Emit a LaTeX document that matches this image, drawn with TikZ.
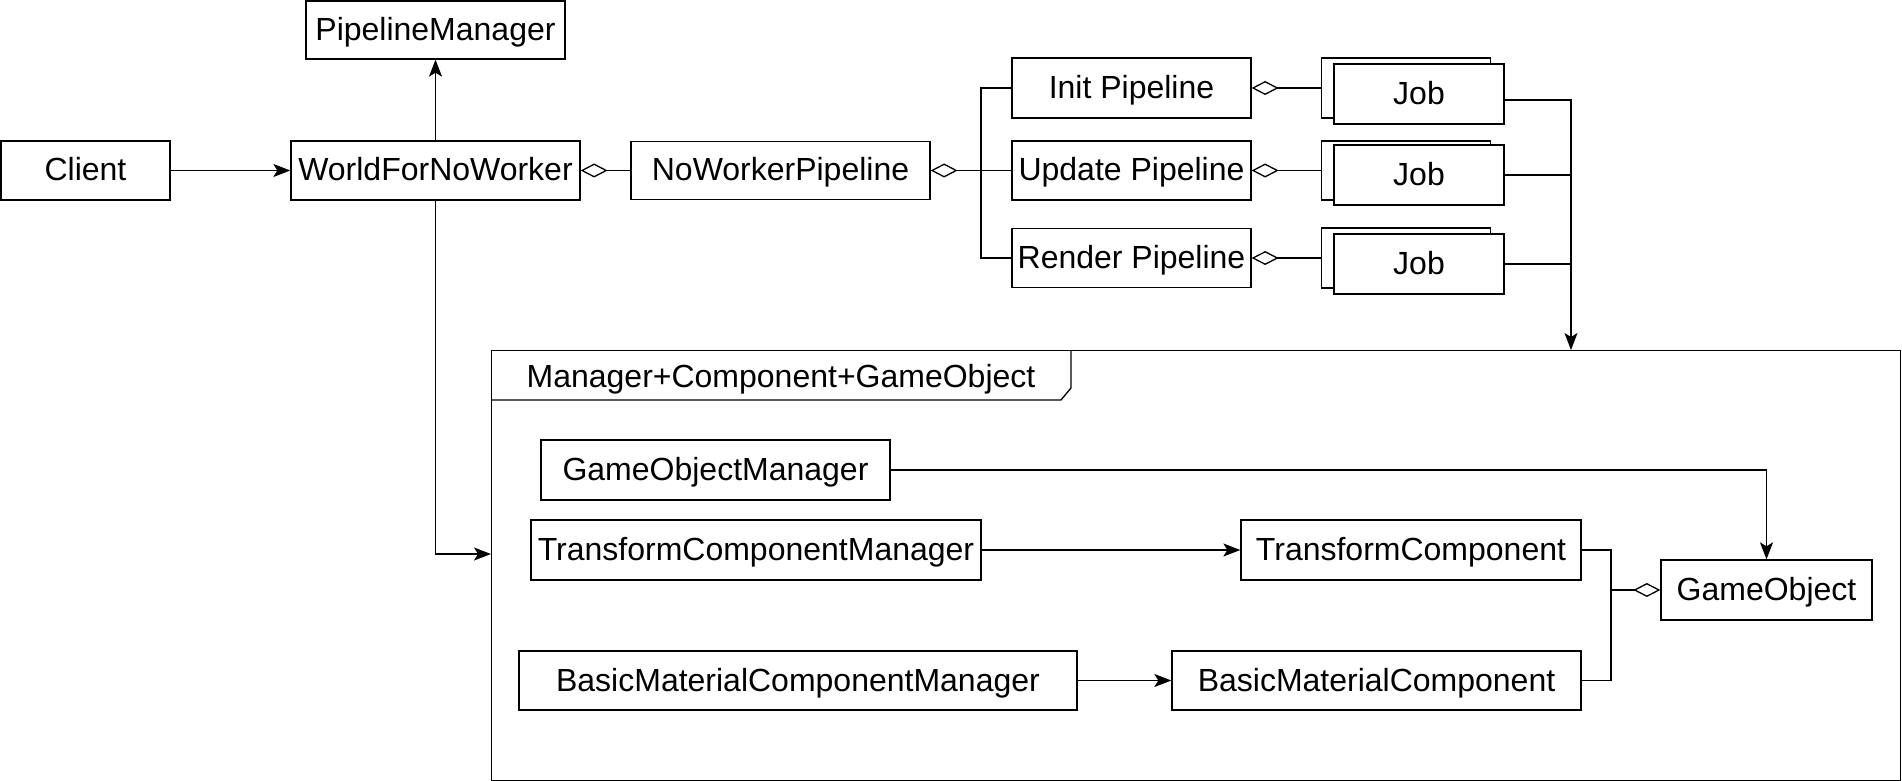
\documentclass[tikz,border=0pt]{standalone}
\usepackage{fontspec}
\setmainfont{Liberation Sans}
\usetikzlibrary{arrows.meta,calc}
\begin{document}
\begin{tikzpicture}[x=0.5pt,y=-0.5pt,
  every path/.style={line width=0.65pt},
  box/.style={draw, line width=0.65pt, fill=white, inner sep=0pt, anchor=center,
    text height=10.5pt, text depth=0pt,
    font=\fontsize{16}{19}\selectfont},
  sz/.style 2 args={minimum width=#1*0.5pt, minimum height=#2*0.5pt},
  arr/.style={-{Stealth[length=8.5pt,width=6.5pt,inset=2pt]}},
  agg/.style={{Diamond[open,length=13.5pt,width=7pt]}-}
]
\useasboundingbox (0,0) rectangle (1902,781);

% top row
\node[box, sz={259}{58}] (pm) at (435.5,30) {PipelineManager};
\node[box, sz={169}{59}] (client) at (85.5,170.5) {Client};
\node[box, sz={289}{59}] (world) at (435.5,170.5) {WorldForNoWorker};
\node[box, sz={299}{58}] (nwp) at (780.5,170.5) {NoWorkerPipeline};
\node[box, sz={239}{60}] (init) at (1131.5,88) {Init Pipeline};
\node[box, sz={239}{59}] (update) at (1131.5,170.5) {Update Pipeline};
\node[box, sz={239}{59}] (render) at (1131.5,258) {Render Pipeline};

% jobs (stacked)
\node[box, sz={169}{60}] (job1b) at (1406,88) {};
\node[box, sz={170}{60}] (job1) at (1419,94) {Job};
\node[box, sz={169}{59}] (job2b) at (1406,170.5) {};
\node[box, sz={170}{60}] (job2) at (1419,175) {Job};
\node[box, sz={169}{60}] (job3b) at (1406,258) {};
\node[box, sz={170}{60}] (job3) at (1419,264) {Job};

% frame
\node[draw, line width=0.65pt, inner sep=0pt, minimum width=1409*0.5pt, minimum height=430*0.5pt, anchor=north west] (frame) at (491,350) {};
\draw (frame.north west) ++(0,50) -- ++(570,0) -- ++(10,-12) -- ++(0,-38);
\node[font=\fontsize{16}{19}\selectfont, inner sep=0pt, text height=10.5pt, text depth=0pt] (frametitle) at (781,377) {Manager+Component+GameObject};

% frame contents
\node[box, sz={349}{60}] (gom) at (715.5,470) {GameObjectManager};
\node[box, sz={450}{60}] (tcm) at (756,550) {TransformComponentManager};
\node[box, sz={340}{60}] (tc) at (1411,550) {TransformComponent};
\node[box, sz={558}{59}] (bmcm) at (798,680.5) {BasicMaterialComponentManager};
\node[box, sz={409}{59}] (bmc) at (1376.5,680.5) {BasicMaterialComponent};
\node[box, sz={211}{60}] (go) at (1766.5,590) {GameObject};

% coordinates
\coordinate (pbus) at (981,0);
\coordinate (jtarget) at (1571,350);
\coordinate (frleft) at (491,554);
\coordinate (cbus) at (1611,0);

% connectors
\draw[arr] (client) -- (world);
\draw[arr] (world) -- (pm);
\draw[agg] (world.east) -- (nwp.west);
\draw[agg] (nwp.east) -- (update.west);
\draw (init.west) -| (pbus |- render.west) -- (render.west);
\draw[agg] (init.east) -- (job1b.west);
\draw[agg] (update.east) -- (job2b.west);
\draw[agg] (render.east) -- (job3b.west);
\draw[arr] ([yshift=-3pt]job1.east) -| (jtarget);
\draw (job2.east) -- (job2.east -| jtarget);
\draw (job3.east) -- (job3.east -| jtarget);
\draw[arr] (world.south) |- (frleft);
\draw[arr] (gom.east) -| (go.north);
\draw[arr] (tcm) -- (tc);
\draw[arr] (bmcm) -- (bmc);
\draw (tc.east) -| (cbus |- bmc.east) -- (bmc.east);
\draw[agg] (go.west) -- (go.west -| cbus);
\end{tikzpicture}
\end{document}
